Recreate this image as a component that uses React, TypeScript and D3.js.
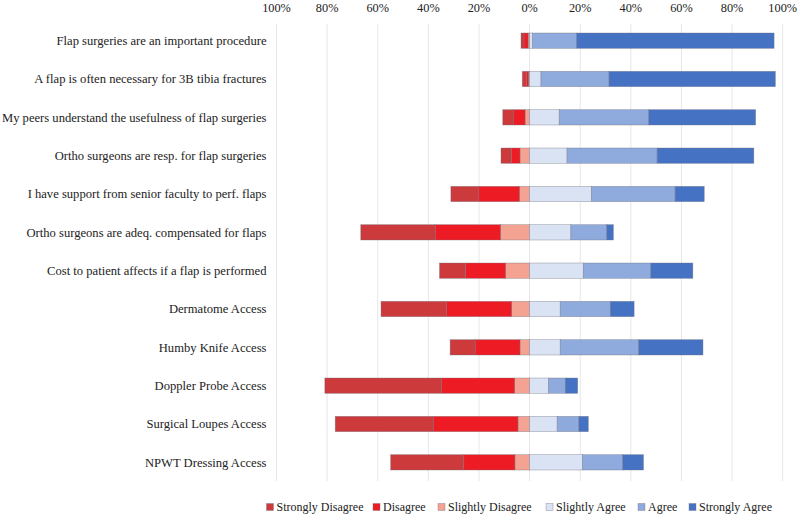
import React from "react";
import * as d3 from "d3";

const categories = [
  "Flap surgeries are an important procedure",
  "A flap is often necessary for 3B tibia fractures",
  "My peers understand the usefulness of flap surgeries",
  "Ortho surgeons are resp. for flap surgeries",
  "I have support from senior faculty to perf. flaps",
  "Ortho surgeons are adeq. compensated for flaps",
  "Cost to patient affects if a flap is performed",
  "Dermatome Access",
  "Humby Knife Access",
  "Doppler Probe Access",
  "Surgical Loupes Access",
  "NPWT Dressing Access",
];

const stronglyDisagree = [1.2, 1.7, 4.1, 4.1, 10.8, 29.4, 10.3, 25.8, 9.9, 46.0, 38.7, 28.9];
const disagree = [1.6, 0.8, 4.7, 3.4, 16.3, 25.8, 15.8, 25.8, 17.7, 29.0, 33.5, 20.2];
const slightlyDisagree = [0.6, 0.4, 1.8, 3.8, 4.0, 11.5, 9.5, 7.1, 3.8, 5.9, 4.6, 5.8];
const slightlyAgree = [1.2, 4.5, 11.7, 14.8, 24.4, 16.3, 21.2, 12.1, 12.1, 7.5, 10.9, 20.9];
const agree = [17.4, 26.9, 35.4, 35.6, 33.1, 14.2, 26.7, 19.8, 31.0, 6.6, 8.6, 15.9];
const stronglyAgree = [78.0, 65.7, 42.2, 38.2, 11.5, 2.6, 16.6, 9.4, 25.4, 4.9, 3.7, 8.2];

const tickValues = [-100, -80, -60, -40, -20, 0, 20, 40, 60, 80, 100];

const seriesNames = [
  "Strongly Disagree",
  "Disagree",
  "Slightly Disagree",
  "Slightly Agree",
  "Agree",
  "Strongly Agree",
];
const seriesColors = ["#cc3a3b", "#ed1c24", "#f4a292", "#dae3f3", "#8faadc", "#4672c4"];

const width = 800;
const height = 521;
const font = "'Liberation Serif', 'Times New Roman', serif";

export default function App() {
  const x = d3.scaleLinear().domain([-100, 100]).range([276.5, 782.7]);
  const y = d3
    .scaleBand()
    .domain(categories)
    .range([21.5, 481.5])
    .paddingInner(0.6)
    .paddingOuter(0.3);

  // negatives stack outward from zero, positives stack from zero
  const segments: { key: string; x0: number; x1: number; cat: string; color: string }[] = [];
  categories.forEach((cat, i) => {
    const neg = [slightlyDisagree[i], disagree[i], stronglyDisagree[i]];
    const negColors = [seriesColors[2], seriesColors[1], seriesColors[0]];
    let acc = 0;
    neg.forEach((v, j) => {
      segments.push({ key: cat + "n" + j, x0: -(acc + v), x1: -acc, cat, color: negColors[j] });
      acc += v;
    });
    const pos = [slightlyAgree[i], agree[i], stronglyAgree[i]];
    acc = 0;
    pos.forEach((v, j) => {
      segments.push({ key: cat + "p" + j, x0: acc, x1: acc + v, cat, color: seriesColors[3 + j] });
      acc += v;
    });
  });

  const legendX = [266.5, 373, 438, 546, 638, 689];

  return (
    <div style={{ position: "absolute", left: 0, top: 0 }}>
      <svg width={width} height={height} style={{ display: "block", background: "#fff" }}>
        {tickValues.map((t) => (
          <line
            key={"g" + t}
            x1={x(t)}
            x2={x(t)}
            y1={24}
            y2={481}
            stroke="#e6e6e6"
            strokeWidth={1}
          />
        ))}
        {tickValues.map((t) => (
          <text
            key={"t" + t}
            x={x(t)}
            y={12}
            textAnchor="middle"
            fontFamily={font}
            fontSize={12.3}
            fill="#222"
          >
            {Math.abs(t) + "%"}
          </text>
        ))}
        {segments.map((s) => (
          <rect
            key={s.key}
            x={x(s.x0)}
            y={y(s.cat)}
            width={Math.max(0, x(s.x1) - x(s.x0))}
            height={y.bandwidth()}
            fill={s.color}
            stroke="#6f7280"
            strokeOpacity={0.6}
            strokeWidth={0.6}
          />
        ))}
        {categories.map((c) => (
          <text
            key={"l" + c}
            x={266.5}
            y={(y(c) || 0) + y.bandwidth() / 2}
            dy="0.35em"
            textAnchor="end"
            fontFamily={font}
            fontSize={12.6}
            fill="#222"
          >
            {c}
          </text>
        ))}
        {seriesNames.map((n, i) => (
          <g key={"lg" + n} transform={`translate(${legendX[i]},507)`}>
            <rect
              x={0}
              y={-3.5}
              width={7}
              height={7}
              fill={seriesColors[i]}
              stroke="#6f7280"
              strokeOpacity={0.6}
              strokeWidth={0.6}
            />
            <text x={10} y={0} dy="0.35em" fontFamily={font} fontSize={12} fill="#222">
              {n}
            </text>
          </g>
        ))}
      </svg>
    </div>
  );
}
